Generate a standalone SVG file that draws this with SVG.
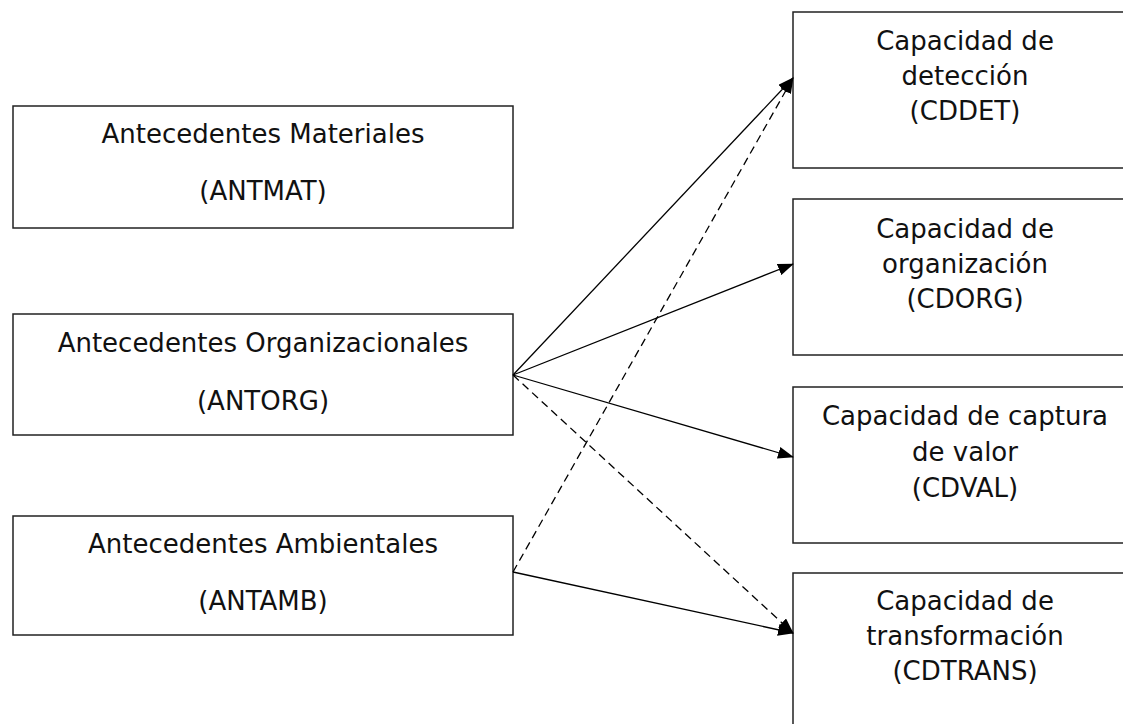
<svg xmlns="http://www.w3.org/2000/svg" width="1123" height="724" viewBox="0 0 1123 724">
<style>
.box{fill:#fff;stroke:#222;stroke-width:1.5}
.t{font-family:"DejaVu Sans",Verdana,sans-serif;font-size:26px;fill:#111;text-anchor:middle}
.c{fill:none;stroke:#000;stroke-width:1.3}
.d{stroke-dasharray:8 5}
</style>
<defs>
<marker id="ah" markerUnits="userSpaceOnUse" markerWidth="16" markerHeight="12" refX="15" refY="6" orient="auto">
<path d="M0,0 L16,6 L0,12 z" fill="#000"/>
</marker>
</defs>
<rect width="1123" height="724" fill="#fff"/>
<g id="antmat"><rect class="box" x="13" y="106" width="500" height="122"/>
<text class="t" x="263" y="143">Antecedentes Materiales</text>
<text class="t" x="263" y="200">(ANTMAT)</text></g>
<g id="antorg"><rect class="box" x="13" y="314" width="500" height="121"/>
<text class="t" x="263" y="352">Antecedentes Organizacionales</text>
<text class="t" x="263" y="410">(ANTORG)</text></g>
<g id="antamb"><rect class="box" x="13" y="516" width="500" height="119"/>
<text class="t" x="263" y="553">Antecedentes Ambientales</text>
<text class="t" x="263" y="610">(ANTAMB)</text></g>
<g id="cddet"><rect class="box" x="793" y="12" width="360" height="156"/>
<text class="t" x="965" y="50">Capacidad de</text>
<text class="t" x="965" y="85">detección</text>
<text class="t" x="965" y="120">(CDDET)</text></g>
<g id="cdorg"><rect class="box" x="793" y="199" width="360" height="156"/>
<text class="t" x="965" y="238">Capacidad de</text>
<text class="t" x="965" y="273">organización</text>
<text class="t" x="965" y="308">(CDORG)</text></g>
<g id="cdval"><rect class="box" x="793" y="387" width="360" height="156"/>
<text class="t" x="965" y="425">Capacidad de captura</text>
<text class="t" x="965" y="461">de valor</text>
<text class="t" x="965" y="497">(CDVAL)</text></g>
<g id="cdtrans"><rect class="box" x="793" y="573" width="360" height="170"/>
<text class="t" x="965" y="610">Capacidad de</text>
<text class="t" x="965" y="645">transformación</text>
<text class="t" x="965" y="680">(CDTRANS)</text></g>
<g id="connectors">
<line class="c" x1="513" y1="375" x2="793" y2="78" marker-end="url(#ah)"/>
<line class="c" x1="513" y1="375" x2="793" y2="264" marker-end="url(#ah)"/>
<line class="c" x1="513" y1="375" x2="793" y2="457" marker-end="url(#ah)"/>
<line class="c d" x1="513" y1="375" x2="793" y2="633" marker-end="url(#ah)"/>
<line class="c d" x1="513" y1="572" x2="793" y2="78" marker-end="url(#ah)"/>
<line class="c" x1="513" y1="572" x2="793" y2="633" marker-end="url(#ah)"/>
</g>
</svg>
